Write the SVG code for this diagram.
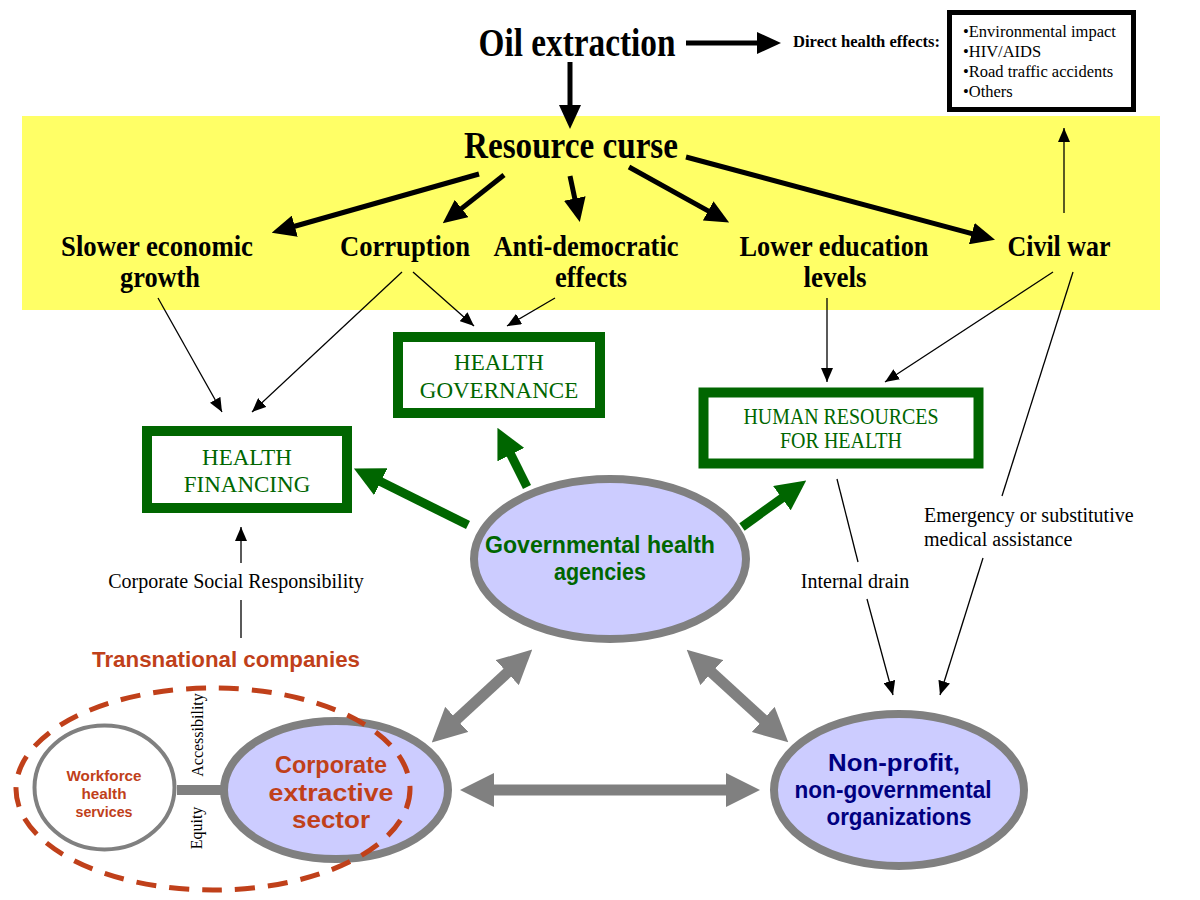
<svg xmlns="http://www.w3.org/2000/svg" width="1200" height="900" viewBox="0 0 1200 900">
<style>
.serif{font-family:"Liberation Serif","Times New Roman",serif}
.bold{font-weight:bold}
.band{font-family:"Liberation Serif","Times New Roman",serif;font-weight:bold;font-size:29px;fill:#000;text-anchor:middle}
.gbox{fill:#fff;stroke:#006600;stroke-width:10}
.gtxt{font-family:"Liberation Serif","Times New Roman",serif;font-size:23px;fill:#006600;text-anchor:middle}
.comic{font-family:"Comic Sans MS","Liberation Sans",Arial,sans-serif;font-weight:bold;text-anchor:middle}
.ell{fill:#ccccff;stroke:#808080;stroke-width:8}
.thin{stroke:#000;stroke-width:1.3;fill:none}
.thick{stroke:#000;stroke-width:5;fill:none}
.green{stroke:#006600;stroke-width:9;fill:none}
.gray{stroke:#808080;stroke-width:11;fill:none}
.lbl{font-family:"Liberation Serif","Times New Roman",serif;font-size:20px;fill:#000}
.red{fill:#c0401a}
</style>
<defs>
<marker id="ah" markerUnits="userSpaceOnUse" markerWidth="14" markerHeight="12" viewBox="0 0 14 12" refX="14" refY="6" orient="auto"><path d="M0,0 L14,6 L0,12 z" fill="#000"/></marker>
<marker id="ahb" markerUnits="userSpaceOnUse" markerWidth="24" markerHeight="22" viewBox="0 0 24 22" refX="1" refY="11" orient="auto"><path d="M0,0 L24,11 L0,22 z" fill="#000"/></marker>
<marker id="ahg" markerUnits="userSpaceOnUse" markerWidth="30" markerHeight="30" viewBox="0 0 30 30" refX="1" refY="15" orient="auto"><path d="M0,0 L30,15 L0,30 z" fill="#006600"/></marker>
<marker id="ahy" markerUnits="userSpaceOnUse" markerWidth="34" markerHeight="34" viewBox="0 0 34 34" refX="1" refY="17" orient="auto-start-reverse"><path d="M0,0 L34,17 L0,34 z" fill="#808080"/></marker>
</defs>
<rect width="1200" height="900" fill="#fff"/>
<rect id="band" x="22" y="116" width="1138" height="194" fill="#ffff66"/>

<g id="connectors">
<line class="thick" x1="686" y1="43" x2="758" y2="43" marker-end="url(#ahb)"/>
<line class="thick" x1="570" y1="62" x2="570" y2="106" marker-end="url(#ahb)"/>
<line class="thick" x1="479" y1="174" x2="293.8" y2="226.5" marker-end="url(#ahb)"/>
<line class="thick" x1="504" y1="175" x2="460.8" y2="209.1" marker-end="url(#ahb)"/>
<line class="thick" x1="570" y1="176" x2="575" y2="199.5" marker-end="url(#ahb)"/>
<line class="thick" x1="629" y1="167" x2="709" y2="211.4" marker-end="url(#ahb)"/>
<line class="thick" x1="686" y1="157" x2="972.8" y2="233.8" marker-end="url(#ahb)"/>
<line class="thin" x1="1064" y1="213" x2="1064" y2="128" marker-end="url(#ah)"/>
<line class="thin" x1="158" y1="298" x2="222" y2="412" marker-end="url(#ah)"/>
<line class="thin" x1="402" y1="272" x2="252" y2="412" marker-end="url(#ah)"/>
<line class="thin" x1="413" y1="272" x2="474" y2="326" marker-end="url(#ah)"/>
<line class="thin" x1="555" y1="298" x2="507" y2="326" marker-end="url(#ah)"/>
<line class="thin" x1="827" y1="298" x2="827" y2="382" marker-end="url(#ah)"/>
<line class="thin" x1="1053" y1="272" x2="885" y2="382" marker-end="url(#ah)"/>
<line class="thin" x1="1073" y1="272" x2="1002" y2="496"/>
<line class="thin" x1="983" y1="558" x2="940" y2="695" marker-end="url(#ah)"/>
<line class="thin" x1="837" y1="479" x2="858" y2="562"/>
<line class="thin" x1="867" y1="599" x2="893" y2="695" marker-end="url(#ah)"/>
<line class="thin" x1="241" y1="638" x2="241" y2="600"/>
<line class="thin" x1="241" y1="563" x2="241" y2="527" marker-end="url(#ah)"/>
<line class="green" x1="468" y1="525" x2="379.9" y2="481.3" marker-end="url(#ahg)"/>
<line class="green" x1="527" y1="487" x2="510.4" y2="453.8" marker-end="url(#ahg)"/>
<line class="green" x1="742" y1="527" x2="782.7" y2="497.6" marker-end="url(#ahg)"/>
<line class="gray" x1="456" y1="720" x2="508" y2="672" marker-start="url(#ahy)" marker-end="url(#ahy)"/>
<line class="gray" x1="711.1" y1="671.9" x2="763.9" y2="720.1" marker-start="url(#ahy)" marker-end="url(#ahy)"/>
<line class="gray" x1="493" y1="790" x2="727" y2="790" marker-start="url(#ahy)" marker-end="url(#ahy)"/>
<line x1="177" y1="790" x2="224" y2="790" stroke="#808080" stroke-width="10"/>
</g>

<g id="oil-extraction"><text class="serif bold" x="577" y="56" font-size="39" text-anchor="middle" textLength="197" lengthAdjust="spacingAndGlyphs">Oil extraction</text></g>
<g id="direct-health-effects"><text class="serif bold" x="793" y="47" font-size="17.5" textLength="147" lengthAdjust="spacingAndGlyphs">Direct health effects:</text></g>
<g id="effects-box">
<rect x="949.5" y="12.5" width="184" height="97" fill="#fff" stroke="#000" stroke-width="5"/>
<text class="serif" font-size="16.5" x="963" y="37">•Environmental impact</text>
<text class="serif" font-size="16.5" x="963" y="57">•HIV/AIDS</text>
<text class="serif" font-size="16.5" x="963" y="77">•Road traffic accidents</text>
<text class="serif" font-size="16.5" x="963" y="97">•Others</text>
</g>
<g id="resource-curse"><text class="serif bold" x="571" y="158" font-size="37" text-anchor="middle" textLength="214" lengthAdjust="spacingAndGlyphs">Resource curse</text></g>
<g id="slower-growth"><text class="band" x="157" y="256" textLength="192" lengthAdjust="spacingAndGlyphs">Slower economic</text><text class="band" x="160" y="287" textLength="80" lengthAdjust="spacingAndGlyphs">growth</text></g>
<g id="corruption"><text class="band" x="405" y="256" textLength="130" lengthAdjust="spacingAndGlyphs">Corruption</text></g>
<g id="anti-democratic"><text class="band" x="586" y="256" textLength="185" lengthAdjust="spacingAndGlyphs">Anti-democratic</text><text class="band" x="591" y="287" textLength="72" lengthAdjust="spacingAndGlyphs">effects</text></g>
<g id="lower-education"><text class="band" x="834" y="256" textLength="189" lengthAdjust="spacingAndGlyphs">Lower education</text><text class="band" x="835" y="287" textLength="63" lengthAdjust="spacingAndGlyphs">levels</text></g>
<g id="civil-war"><text class="band" x="1059" y="256" textLength="103" lengthAdjust="spacingAndGlyphs">Civil war</text></g>

<g id="health-governance">
<rect class="gbox" x="398" y="337" width="202" height="76"/>
<text class="gtxt" x="499" y="370">HEALTH</text>
<text class="gtxt" x="499" y="398">GOVERNANCE</text>
</g>
<g id="health-financing">
<rect class="gbox" x="147" y="431" width="200" height="77"/>
<text class="gtxt" x="247" y="465">HEALTH</text>
<text class="gtxt" x="247" y="492">FINANCING</text>
</g>
<g id="human-resources">
<rect class="gbox" x="703.5" y="392.5" width="275" height="71" stroke-width="9"/>
<text class="gtxt" x="841" y="424" font-size="20" textLength="195" lengthAdjust="spacingAndGlyphs">HUMAN RESOURCES</text>
<text class="gtxt" x="841" y="448" font-size="20" textLength="122" lengthAdjust="spacingAndGlyphs">FOR HEALTH</text>
</g>

<g id="csr-label"><text class="lbl" x="236" y="588" text-anchor="middle">Corporate Social Responsibility</text></g>
<g id="internal-drain-label"><text class="lbl" x="855" y="588" font-size="19.5" text-anchor="middle">Internal drain</text></g>
<g id="emergency-label"><text class="lbl" x="924" y="522">Emergency or substitutive</text><text class="lbl" x="924" y="546">medical assistance</text></g>

<g id="governmental-agencies">
<ellipse class="ell" cx="610" cy="559" rx="136" ry="80"/>
<text class="comic" x="600" y="553" font-size="23" fill="#006600" textLength="230" lengthAdjust="spacingAndGlyphs">Governmental health</text>
<text class="comic" x="600" y="580" font-size="23" fill="#006600" textLength="92" lengthAdjust="spacingAndGlyphs">agencies</text>
</g>
<g id="ngo">
<ellipse class="ell" cx="899" cy="790" rx="125" ry="76"/>
<text class="comic" x="894" y="771" font-size="23" fill="#000080" textLength="132" lengthAdjust="spacingAndGlyphs">Non-profit,</text>
<text class="comic" x="893" y="798" font-size="23" fill="#000080" textLength="197" lengthAdjust="spacingAndGlyphs">non-governmental</text>
<text class="comic" x="899" y="825" font-size="23" fill="#000080" textLength="145" lengthAdjust="spacingAndGlyphs">organizations</text>
</g>
<g id="corporate-sector">
<ellipse class="ell" cx="336" cy="790" rx="112" ry="69"/>
<text class="comic red" x="331" y="773" font-size="24" textLength="112" lengthAdjust="spacingAndGlyphs">Corporate</text>
<text class="comic red" x="331" y="801" font-size="24" textLength="125" lengthAdjust="spacingAndGlyphs">extractive</text>
<text class="comic red" x="331" y="828" font-size="24" textLength="78" lengthAdjust="spacingAndGlyphs">sector</text>
</g>
<g id="workforce-health">
<ellipse cx="104.5" cy="787.5" rx="70" ry="62" fill="#fff" stroke="#808080" stroke-width="4"/>
<text class="comic red" x="104" y="781" font-size="15" textLength="75" lengthAdjust="spacingAndGlyphs">Workforce</text>
<text class="comic red" x="104" y="799" font-size="15" textLength="45" lengthAdjust="spacingAndGlyphs">health</text>
<text class="comic red" x="104" y="817" font-size="15" textLength="57" lengthAdjust="spacingAndGlyphs">services</text>
</g>
<g id="accessibility-equity">
<text class="serif" font-size="16" text-anchor="middle" transform="translate(203,735) rotate(-90)">Accessibility</text>
<text class="serif" font-size="16" text-anchor="middle" transform="translate(202,828) rotate(-90)">Equity</text>
</g>
<g id="transnational-companies">
<text class="comic red" x="226" y="667" font-size="22" textLength="268" lengthAdjust="spacingAndGlyphs">Transnational companies</text>
<ellipse cx="213" cy="789" rx="197" ry="101" fill="none" stroke="#c0401a" stroke-width="5" stroke-dasharray="20 13"/>
</g>
</svg>
